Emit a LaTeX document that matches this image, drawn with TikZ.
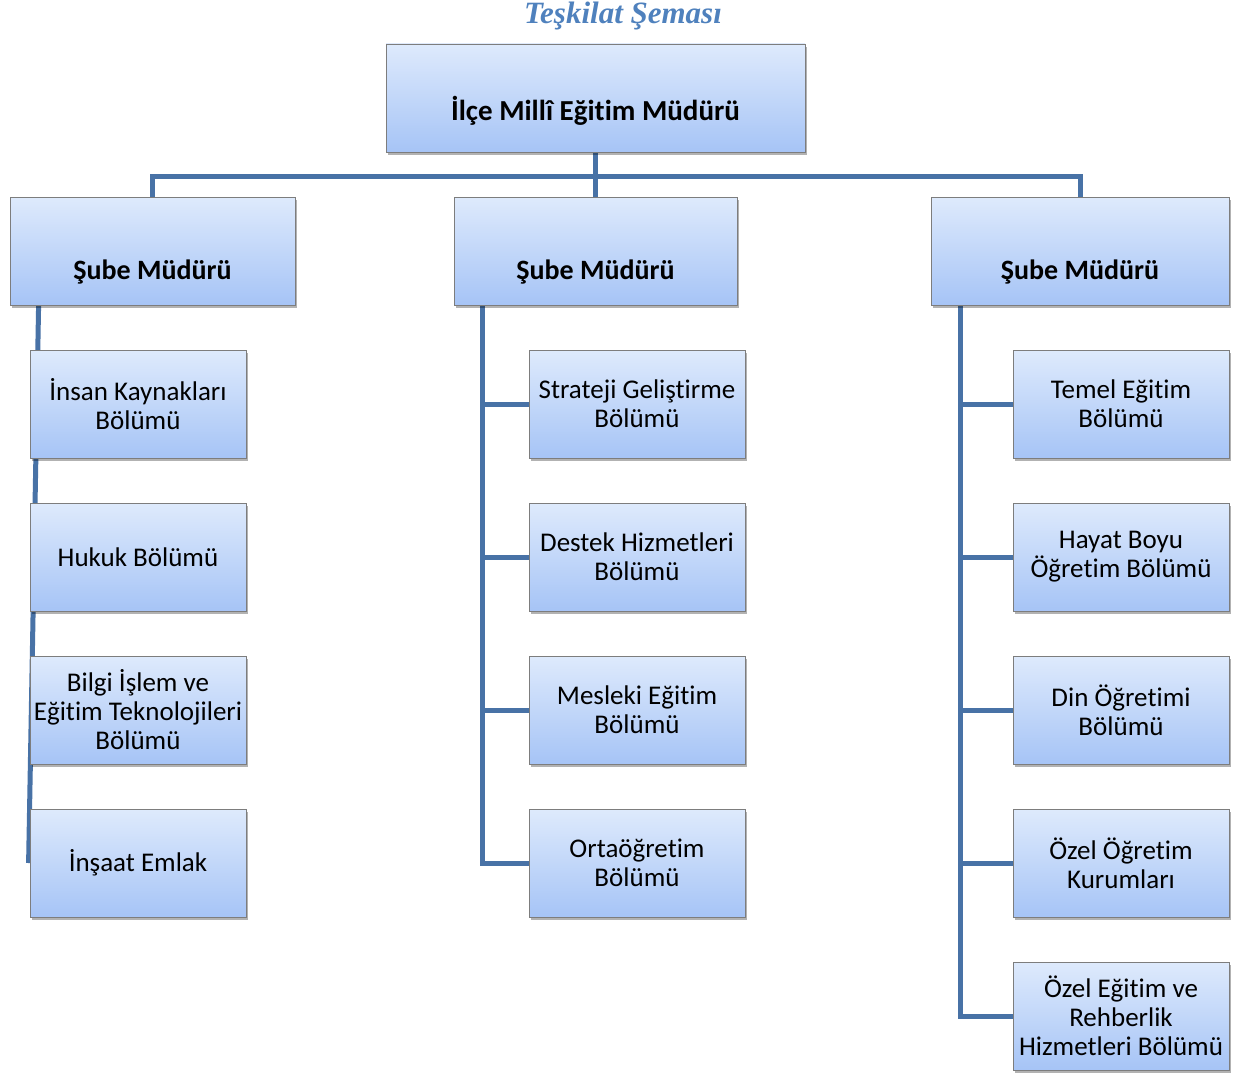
\documentclass[tikz,border=0pt]{standalone}
\usepackage{fontspec}
\setmainfont{Carlito}[Ligatures=NoCommon]
\newfontfamily\titlefont{Liberation Serif}
\usetikzlibrary{shadows,backgrounds}

\definecolor{boxtop}{RGB}{222,234,252}
\definecolor{boxbottom}{RGB}{166,196,246}
\definecolor{boxline}{RGB}{125,125,125}
\definecolor{linkblue}{RGB}{72,114,166}
\definecolor{titleblue}{RGB}{79,129,189}

\tikzset{
	unit/.style={rectangle, draw=boxline, line width=0.8pt, top color=boxtop, bottom color=boxbottom,
		drop shadow={shadow xshift=2pt, shadow yshift=-3pt, opacity=0.3, fill=black}, align=center, inner sep=2pt},
	headbox/.style={unit, minimum height=108pt, font=\fontsize{28}{32}\selectfont\bfseries, text depth=0pt},
	deptbox/.style={unit, minimum width=216pt, minimum height=108pt, font=\fontsize{27}{29}\selectfont},
	link/.style={draw=linkblue, line width=5pt},
}

\begin{document}
\begin{tikzpicture}[x=1pt, y=-1pt]
	\useasboundingbox (0,0) rectangle (1240,1073);

	\node[font=\titlefont\fontsize{31}{36}\selectfont\bfseries\itshape, text=titleblue, anchor=base, inner sep=0pt] (baslik) at (623,24) {Teşkilat Şeması};

	% ust kademe
	\node[headbox, minimum width=419pt, text height=44pt, font=\fontsize{29}{32}\selectfont\bfseries] (mudur) at (595.5,98) {İlçe Millî Eğitim Müdürü};
	\node[headbox, minimum width=285pt, text height=56pt] (subeL) at (152.5,251) {Şube Müdürü};
	\node[headbox, minimum width=283pt, text height=56pt] (subeM) at (595.5,251) {Şube Müdürü};
	\node[headbox, minimum width=298pt, text height=56pt] (subeR) at (1080,251) {Şube Müdürü};

	% sol bolumler
	\node[deptbox] (bolL1) at (138,404) {İnsan Kaynakları\\Bölümü};
	\node[deptbox] (bolL2) at (138,557) {Hukuk Bölümü};
	\node[deptbox] (bolL3) at (138,710) {Bilgi İşlem ve\\Eğitim Teknolojileri\\Bölümü};
	\node[deptbox] (bolL4) at (138,863) {İnşaat Emlak};

	% orta bolumler
	\node[deptbox] (bolM1) at (637,404) {Strateji Geliştirme\\Bölümü};
	\node[deptbox] (bolM2) at (637,557) {Destek Hizmetleri\\Bölümü};
	\node[deptbox] (bolM3) at (637,710) {Mesleki Eğitim\\Bölümü};
	\node[deptbox] (bolM4) at (637,863) {Ortaöğretim\\Bölümü};

	% sag bolumler
	\node[deptbox] (bolR1) at (1121,404) {Temel Eğitim\\Bölümü};
	\node[deptbox] (bolR2) at (1121,557) {Hayat Boyu\\Öğretim Bölümü};
	\node[deptbox] (bolR3) at (1121,710) {Din Öğretimi\\Bölümü};
	\node[deptbox] (bolR4) at (1121,863) {Özel Öğretim\\Kurumları};
	\node[deptbox] (bolR5) at (1121,1016) {Özel Eğitim ve\\Rehberlik\\Hizmetleri Bölümü};

	\begin{scope}[on background layer]
		\draw[link] (mudur.south) -- (subeM.north);
		\draw[link] (subeL.north) -- ++(0,-20) -| (subeR.north);

		\coordinate (ltrunk) at ([xshift=29pt]subeL.south west);
		\draw[link] (ltrunk) -- ([xshift=-1pt]bolL4.west);

		\coordinate (mtrunk) at ([xshift=29pt]subeM.south west);
		\draw[link] (mtrunk) |- (bolM4.west);
		\foreach \i in {1,2,3}
			\draw[link] (mtrunk |- bolM\i.west) -- (bolM\i.west);

		\coordinate (rtrunk) at ([xshift=30pt]subeR.south west);
		\draw[link] (rtrunk) |- (bolR5.west);
		\foreach \i in {1,...,4}
			\draw[link] (rtrunk |- bolR\i.west) -- (bolR\i.west);
	\end{scope}
\end{tikzpicture}
\end{document}
